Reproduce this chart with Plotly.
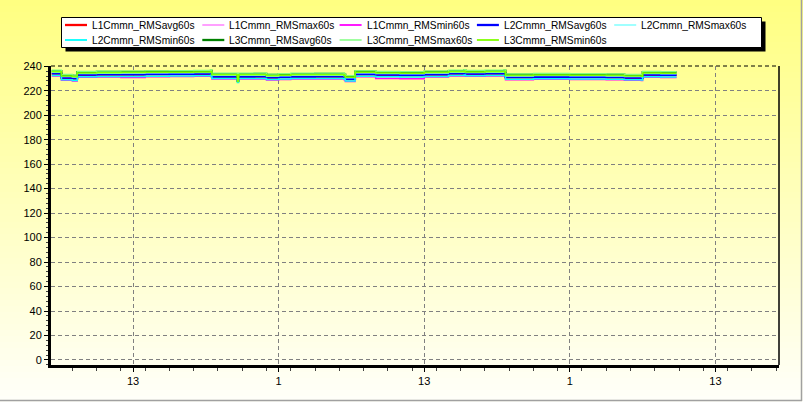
import plotly.graph_objects as go

# ---------------- data ----------------
times = [
    "2020-01-01 06:18", "2020-01-01 07:00", "2020-01-01 07:06", "2020-01-01 08:00", "2020-01-01 08:24",
    "2020-01-01 10:00", "2020-01-01 12:00", "2020-01-01 14:00", "2020-01-01 16:00", "2020-01-01 18:00",
    "2020-01-01 19:24", "2020-01-01 19:30", "2020-01-01 21:30", "2020-01-01 21:36", "2020-01-01 21:42",
    "2020-01-01 23:00", "2020-01-02 00:00", "2020-01-02 01:00", "2020-01-02 02:00", "2020-01-02 04:00",
    "2020-01-02 06:24", "2020-01-02 06:30", "2020-01-02 07:12", "2020-01-02 07:18", "2020-01-02 09:00",
    "2020-01-02 11:00", "2020-01-02 13:00", "2020-01-02 15:00", "2020-01-02 16:18", "2020-01-02 16:24",
    "2020-01-02 18:00", "2020-01-02 19:36", "2020-01-02 19:42", "2020-01-02 22:00", "2020-01-03 01:00",
    "2020-01-03 04:00", "2020-01-03 05:30", "2020-01-03 06:54", "2020-01-03 07:00", "2020-01-03 08:30",
    "2020-01-03 09:48",
]

L1_avg = [233.8, 233.9, 230.2, 229.9, 232.8, 233.0, 233.1, 233.4, 233.4, 233.6, 234.0, 231.3, 231.4, 229.5,
          231.3, 231.4, 230.6, 231.0, 231.3, 231.4, 230.8, 229.3, 229.4, 233.3, 232.7, 232.5, 233.1, 233.8,
          234.3, 233.6, 233.8, 234.1, 230.8, 231.1, 231.0, 230.8, 230.4, 230.1, 232.8, 232.6, 232.6]
L1_max = [234.7, 234.7, 231.2, 230.7, 233.7, 233.9, 234.0, 234.2, 234.3, 234.5, 234.9, 232.2, 232.2, 229.8,
          232.2, 232.3, 231.5, 231.9, 232.2, 232.3, 231.7, 230.2, 230.2, 234.2, 233.7, 233.5, 234.0, 234.7,
          235.2, 234.5, 234.7, 235.0, 231.7, 232.0, 231.9, 231.7, 231.3, 231.0, 233.7, 233.5, 233.5]
L1_min = [232.0, 232.0, 228.5, 228.0, 231.0, 231.2, 230.8, 231.5, 231.6, 231.8, 232.2, 229.5, 229.5, 228.5,
          229.5, 229.6, 228.8, 229.2, 229.5, 229.6, 229.0, 227.5, 227.5, 231.5, 230.0, 229.8, 231.3, 232.0,
          232.5, 231.8, 232.0, 232.3, 229.0, 229.3, 229.2, 229.0, 228.6, 228.3, 231.0, 230.8, 230.8]
L2_avg = [234.0, 234.0, 230.5, 230.0, 233.0, 233.2, 233.3, 233.5, 233.6, 233.8, 234.2, 231.5, 231.5, 228.0,
          231.5, 231.6, 230.8, 231.2, 231.5, 231.6, 231.0, 229.5, 229.5, 233.5, 233.0, 232.8, 233.3, 234.0,
          234.5, 233.8, 234.0, 234.3, 231.0, 231.3, 231.2, 231.0, 230.6, 230.3, 233.0, 232.8, 232.8]
L2_max = [235.0, 235.0, 231.5, 231.0, 234.0, 234.2, 234.3, 234.5, 234.6, 234.8, 235.2, 232.5, 232.5, 230.0,
          232.5, 232.6, 231.8, 232.2, 232.5, 232.6, 232.0, 230.5, 230.5, 234.5, 234.0, 233.8, 234.3, 235.0,
          235.5, 234.8, 235.0, 235.3, 232.0, 232.3, 232.2, 232.0, 231.6, 231.3, 234.0, 233.8, 233.8]
L2_min = [232.4, 232.4, 228.9, 228.4, 231.4, 231.6, 231.7, 231.9, 232.0, 232.2, 232.6, 229.9, 229.9, 226.8,
          229.9, 230.0, 229.2, 229.6, 229.9, 230.0, 229.4, 227.9, 227.9, 231.9, 231.4, 231.2, 231.7, 232.4,
          232.9, 232.2, 232.4, 232.7, 229.4, 229.7, 229.6, 229.4, 229.0, 228.7, 231.4, 231.2, 231.2]
L3_avg = [236.2, 236.1, 232.6, 232.2, 235.2, 235.4, 235.5, 235.7, 235.8, 236.0, 236.4, 233.7, 233.6, 231.0,
          233.7, 233.8, 233.0, 233.4, 233.7, 233.8, 233.2, 231.7, 231.6, 235.7, 235.2, 235.0, 235.5, 236.2,
          236.7, 236.0, 236.2, 236.5, 233.2, 233.5, 233.4, 233.2, 232.8, 232.5, 235.2, 235.0, 235.0]
L3_max = [236.8, 236.8, 233.3, 232.8, 235.8, 236.0, 236.1, 236.3, 236.4, 236.6, 237.0, 234.3, 234.3, 232.0,
          234.3, 234.4, 233.6, 234.0, 234.3, 234.4, 233.8, 232.3, 232.3, 236.3, 235.8, 235.6, 236.1, 236.8,
          237.3, 236.6, 236.8, 237.1, 233.8, 234.1, 234.0, 233.8, 233.4, 233.1, 235.8, 235.6, 235.6]
L3_min = [235.5, 235.5, 232.0, 231.5, 234.5, 234.7, 234.8, 235.0, 235.1, 235.3, 235.7, 233.0, 233.0, 227.5,
          233.0, 233.1, 232.3, 232.7, 233.0, 233.1, 232.5, 231.0, 231.0, 235.0, 234.5, 234.3, 234.8, 235.5,
          236.0, 235.3, 235.5, 235.8, 232.5, 232.8, 232.7, 232.5, 232.1, 231.8, 234.5, 234.3, 234.3]

series_names = [
    "L1Cmmn_RMSavg60s", "L1Cmmn_RMSmax60s", "L1Cmmn_RMSmin60s",
    "L2Cmmn_RMSavg60s", "L2Cmmn_RMSmax60s", "L2Cmmn_RMSmin60s",
    "L3Cmmn_RMSavg60s", "L3Cmmn_RMSmax60s", "L3Cmmn_RMSmin60s",
]
series_values = [L1_avg, L1_max, L1_min, L2_avg, L2_max, L2_min, L3_avg, L3_max, L3_min]
series_colors = ["#FF0000", "#FF80FF", "#FF00FF", "#0000FF", "#80FFFF", "#00FFFF",
                 "#008000", "#80FF80", "#80FF00"]
series_widths = [2, 1.2, 1.5, 2, 1.2, 1.5, 2, 1.2, 1.5]

y_tick_vals = list(range(0, 241, 20))
x_range = ["2020-01-01 06:14:24", "2020-01-03 18:14:24"]

# ---------------- figure ----------------
W, H = 803, 402
ML, MR, MT, MB = 51, 24, 66, 37
PW, PH = W - ML - MR, H - MT - MB
FONT = "Liberation Sans, Arial"


def px_x(p):
    return (p - ML) / PW


def px_y(p):
    return (H - MB - p) / PH


fig = go.Figure()
for name, vals, col, lw in zip(series_names, series_values, series_colors, series_widths):
    fig.add_trace(go.Scatter(x=times, y=vals, name=name, mode="lines", showlegend=False,
                             line=dict(color=col, width=lw, shape="hv")))

shapes = []
annotations = []
# background gradient (yellow to near-white)
N = 67
for i in range(N):
    p0 = i * H / N
    p1 = (i + 1) * H / N + 0.8
    t = (i + 0.5) / N
    b = int(round(128 + (250 - 128) * t))
    shapes.append(dict(type="rect", xref="paper", yref="paper",
                       x0=px_x(0), x1=px_x(W), y0=px_y(p1), y1=px_y(p0),
                       fillcolor=f"rgb(255,255,{b})", line=dict(width=0), layer="below"))
# plot frame: dashed top, thin right
shapes.append(dict(type="line", xref="paper", yref="paper", x0=0, x1=1, y0=1, y1=1,
                   line=dict(color="black", width=1, dash="4px,3px"), layer="above"))
shapes.append(dict(type="line", xref="paper", yref="paper", x0=1, x1=1, y0=0, y1=1,
                   line=dict(color="black", width=1.5), layer="above"))
# outer grey border (right & bottom)
shapes.append(dict(type="line", xref="paper", yref="paper", x0=px_x(801.5), x1=px_x(801.5),
                   y0=px_y(0), y1=px_y(401), line=dict(color="#A0A0A0", width=1.5)))
shapes.append(dict(type="line", xref="paper", yref="paper", x0=px_x(0), x1=px_x(802),
                   y0=px_y(400.5), y1=px_y(400.5), line=dict(color="#A0A0A0", width=1.5)))

# legend box with drop shadow
LEG_L, LEG_T, LEG_R, LEG_B = 61.5, 17.5, 761.5, 47.5
shapes.append(dict(type="rect", xref="paper", yref="paper", x0=px_x(LEG_L + 4), x1=px_x(LEG_R + 4),
                   y0=px_y(LEG_B + 4), y1=px_y(LEG_T + 4), fillcolor="black", line=dict(width=0),
                   layer="above"))
shapes.append(dict(type="rect", xref="paper", yref="paper", x0=px_x(LEG_L), x1=px_x(LEG_R),
                   y0=px_y(LEG_B), y1=px_y(LEG_T), fillcolor="white",
                   line=dict(color="black", width=1), layer="above"))
COL_W = 137.3
ROW_Y = [25, 40]
for k, (name, col, lw) in enumerate(zip(series_names, series_colors, series_widths)):
    r, c = divmod(k, 5)
    lx = 65 + COL_W * c
    ly = ROW_Y[r]
    shapes.append(dict(type="line", xref="paper", yref="paper", x0=px_x(lx), x1=px_x(lx + 22),
                       y0=px_y(ly), y1=px_y(ly), line=dict(color=col, width=lw + 0.3), layer="above"))
    annotations.append(dict(xref="paper", yref="paper", x=px_x(lx + 25), y=px_y(ly + 0.5),
                            xanchor="left", yanchor="middle", text=name, showarrow=False,
                            font=dict(family=FONT, size=10.2, color="black")))

fig.update_layout(
    width=W, height=H,
    margin=dict(l=ML, r=MR, t=MT, b=MB, pad=0, autoexpand=False),
    paper_bgcolor="rgb(255,255,200)",
    plot_bgcolor="rgba(0,0,0,0)",
    font=dict(family=FONT, size=11, color="black"),
    shapes=shapes,
    annotations=annotations,
    showlegend=False,
    xaxis=dict(
        type="date", range=x_range, automargin=False,
        tick0="2020-01-01 01:00", dtick=12 * 3600 * 1000, tickformat="%-H",
        ticks="outside", ticklen=4, tickcolor="black",
        showgrid=True, gridcolor="#808080", griddash="4px,3px", gridwidth=1,
        showline=True, linecolor="black", linewidth=3,
        minor=dict(dtick=2 * 3600 * 1000, ticks="outside", ticklen=3, tickcolor="#404040", showgrid=False),
        zeroline=False, fixedrange=True,
    ),
    yaxis=dict(
        range=[-4.1, 240.2], tickvals=y_tick_vals, automargin=False,
        ticks="outside", ticklen=4, tickcolor="black",
        showgrid=True, gridcolor="#808080", griddash="4px,3px", gridwidth=1,
        showline=True, linecolor="black", linewidth=3,
        minor=dict(dtick=4, ticks="outside", ticklen=2, tickcolor="#404040", showgrid=False),
        zeroline=False, fixedrange=True,
    ),
)

fig.write_html("out.html", config={"displayModeBar": False},
               post_script="document.body.style.margin='0px';document.body.style.padding='0px';")
